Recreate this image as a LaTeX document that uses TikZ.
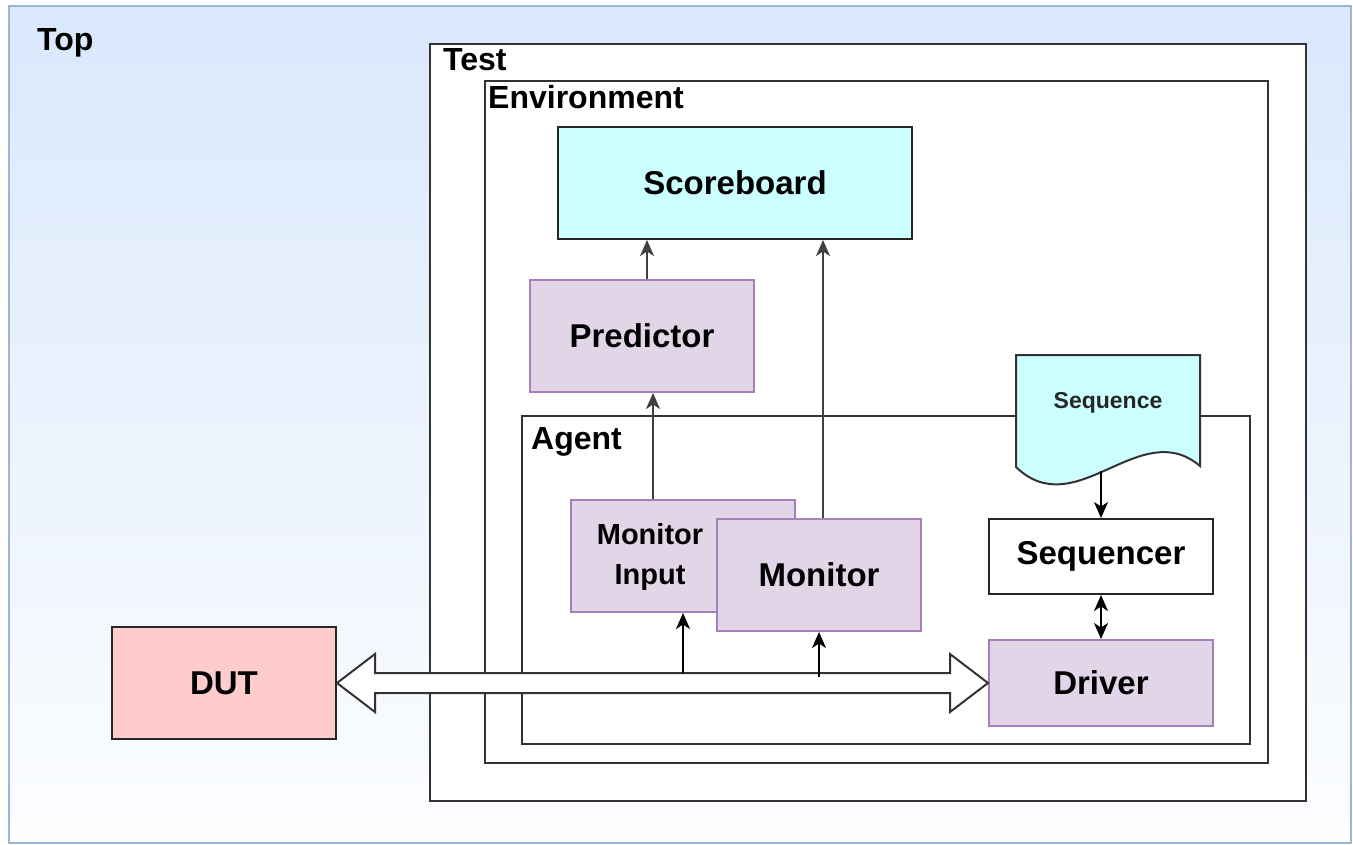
\documentclass[tikz,border=0pt]{standalone}
\usepackage{fontspec}
\setmainfont{Liberation Sans}
\usetikzlibrary{arrows.meta,positioning,calc}
\definecolor{topfill}{HTML}{DAE8FC}
\definecolor{topline}{HTML}{9DB5D9}
\definecolor{cyn}{HTML}{CCFFFF}
\definecolor{prp}{HTML}{E1D5E7}
\definecolor{prpline}{HTML}{A680B8}
\definecolor{rd}{HTML}{FFCCCC}

\begin{document}
\begin{tikzpicture}[x=1pt,y=-1pt,
  frame/.style={draw=black!80,line width=2pt,fill=white,anchor=north west,inner sep=0pt},
  blk/.style={draw=black!85,line width=2pt,anchor=north west,inner sep=0pt,
    font=\fontsize{33}{40}\selectfont\bfseries,align=center},
  pblk/.style={blk,fill=prp,draw=prpline},
  tag/.style={anchor=base west,inner sep=0pt,font=\fontsize{32}{34}\selectfont\bfseries},
  tip/.tip={Stealth[length=16pt,width=14pt,inset=4.5pt]},
  sig/.style={line width=1.8pt,draw=black!75,-tip},
 ]
 \useasboundingbox (0,0) rectangle (1353,844);
 % nested frames
 \node[frame,draw=topline,top color=topfill,bottom color=topfill!8,
   minimum width=1342pt,minimum height=837pt] (top) at (8,5) {};
 \node[tag] (toplbl) at (37,50) {Top};
 \node[frame,minimum width=876pt,minimum height=757pt] (test) at (429,43) {};
 \node[tag] (testlbl) at (443,70) {Test};
 \node[frame,minimum width=783pt,minimum height=682pt] (env) at (484,80) {};
 \node[tag] (envlbl) at (488,108) {Environment};
 \node[frame,minimum width=728pt,minimum height=328pt] (agent) at (521,415) {};
 \node[tag] (agentlbl) at (531,449) {Agent};

 \node[blk,fill=cyn,minimum width=354pt,minimum height=112pt] (score) at (557,126) {Scoreboard};
 \node[pblk,minimum width=224pt,minimum height=112pt] (pred) at (529,279) {Predictor};

 % sequence (document shape)
 \draw[line width=2pt,draw=black!80,fill=cyn] (1016,355) -- (1200,355) -- (1200,466)
   .. controls (1140,415) and (1076,525) .. (1016,467) -- cycle;
 \node[font=\fontsize{23}{26}\selectfont\bfseries,text=black!85] (seq) at (1108,403) {Sequence};
 \coordinate (seqend) at (1101,471);

 \node[pblk,minimum width=224pt,minimum height=112pt] (mi) at (570,499) {};
 \node[font=\fontsize{29}{40}\selectfont\bfseries,align=center] (mitext) at ($(mi.center)+(-33,1)$) {Monitor\\Input};
 \node[pblk,minimum width=204pt,minimum height=112pt] (mon) at (716,518) {Monitor};
 \node[blk,fill=white,minimum width=224pt,minimum height=75pt] (sqr) at (988,518) {Sequencer};
 \node[pblk,minimum width=224pt,minimum height=86pt] (drv) at (988,639) {Driver};
 \node[blk,fill=rd,minimum width=224pt,minimum height=112pt] (dut) at (111,626) {DUT};

 % bus between DUT and driver
 \draw[line width=2pt,draw=black!80,fill=white] (dut.east) -- ++(38,-29) -- ++(0,19)
   -- ($(drv.west)+(-38,-10)$) -- ++(0,-19) -- (drv.west) -- ++(-38,29) -- ++(0,-19)
   -- ($(dut.east)+(38,10)$) -- ++(0,19) -- cycle;
 \coordinate (bustop) at ($(dut.east)+(38,-10)$);

 \draw[sig] ([xshift=5pt]pred.north) -- ([xshift=5pt]pred.north |- score.south);
 \draw[sig] ([xshift=-30pt]mi.north) -- ([xshift=-30pt]mi.north |- pred.south);
 \draw[sig] ([xshift=4pt]mon.north) -- ([xshift=4pt]mon.north |- score.south);
 \draw[sig,draw=black] (mi.south |- bustop) -- (mi.south);
 \draw[sig,draw=black] ([yshift=-4pt]mon.south |- bustop) -- (mon.south);
 \draw[sig,draw=black] (seqend) -- (seqend |- sqr.north);
 \draw[sig,draw=black,tip-tip] (sqr.south) -- (drv.north);
\end{tikzpicture}
\end{document}
